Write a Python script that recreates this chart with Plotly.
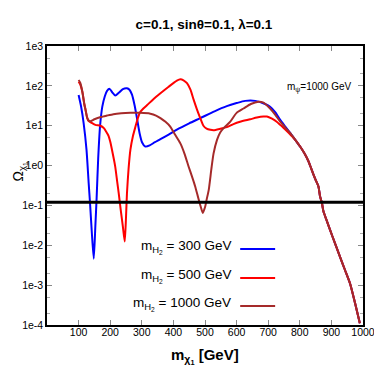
import plotly.graph_objects as go

# ---- data ----
tail_x = [785, 801, 815, 827, 836, 843, 851, 859, 864, 870, 875, 885, 896, 910, 927, 943, 959, 975, 990]
tail_y = [4.5, 3.0, 2.0, 1.3, 0.85, 0.6, 0.42, 0.3, 0.17, 0.115, 0.07, 0.042, 0.024, 0.012, 0.0052, 0.0024, 0.0011, 0.00035, 0.00011]

m300_x = [100, 108, 116, 125, 132, 136, 142, 148, 153, 157, 162, 168, 175, 183, 190, 198, 207, 216, 228, 240, 253,
          261, 269, 277, 285, 293, 301, 311, 325, 340, 359, 385, 411, 450, 485, 530, 569, 600, 627, 659, 690, 706,
          722, 738, 754, 770]
m300_y = [59, 30, 11.5, 2.5, 0.35, 0.12, 0.02, 0.0046, 0.03, 0.15, 1.5, 10, 30, 55, 75, 84, 68, 57, 68, 83, 87,
          80, 60, 33, 15, 6.5, 3.8, 3.0, 3.2, 3.8, 4.6, 6.0, 8.0, 11.5, 15.5, 23, 31, 37, 42, 42, 35, 30,
          22, 14, 9.5, 6.5]

m500_x = [100, 105, 112, 118, 122, 127, 132, 140, 153, 169, 180, 190, 195, 200, 208, 216, 222, 227, 234, 240, 246,
          250, 253, 258, 264, 272, 280, 288, 295, 305, 317, 335, 359, 385, 411, 422, 432, 443, 454, 464, 475,
          485, 495, 505, 517, 527, 549, 569, 590, 611, 643, 664, 685, 696, 712, 727, 738, 754, 770]
m500_y = [126, 110, 70, 35, 25, 16, 13, 12, 10.5, 10, 8.7, 6.5, 5.5, 4.0, 2.0, 0.93, 0.4, 0.2, 0.07, 0.03, 0.0124,
          0.05, 0.2, 0.8, 2.5, 5.5, 9.5, 16, 22, 27, 33, 45, 65, 95, 135, 146, 138, 117, 80, 45, 25,
          15.5, 10, 8.5, 7.9, 7.7, 8.4, 9.2, 11, 12.6, 14.5, 16, 17, 17, 15, 12.6, 10.5, 8.0, 6.0]

m1000_x = [100, 105, 112, 118, 122, 127, 132, 137, 150, 170, 190, 210, 235, 264, 295, 327, 345, 359, 375, 390, 405,
           422, 435, 448, 460, 469, 480, 487, 493, 500, 506, 512, 520, 527, 538, 548, 559, 580, 600, 622, 645,
           669, 685, 706, 722, 738, 754, 770]
m1000_y = [140, 120, 70, 35, 25, 16, 13.5, 13, 14.5, 16.5, 18, 19.5, 20.5, 21, 21, 20, 18, 15.5, 12.5, 9.5, 6.0,
           3.6, 2.0, 0.95, 0.5, 0.3, 0.14, 0.09, 0.065, 0.09, 0.15, 0.25, 0.8, 2.0, 4.4, 6.8, 8.7, 12.7, 21, 27, 35,
           40, 38, 27, 19, 12.6, 9.0, 6.5]

relic_x = [0, 1000]
relic_y = [0.12, 0.12]

legend_labels = ["m<sub>H<sub>2</sub></sub> = 300 GeV",
                 "m<sub>H<sub>2</sub></sub> = 500 GeV",
                 "m<sub>H<sub>2</sub></sub> = 1000 GeV"]
colors = ["#0000ff", "#ff0000", "#a52a2a"]

x_ticks = [100, 200, 300, 400, 500, 600, 700, 800, 900, 1000]
y_tickvals = [1e3, 1e2, 1e1, 1e0, 1e-1, 1e-2, 1e-3, 1e-4]
y_ticktext = ["1e3", "1e2", "1e1", "1e0", "1e-1", "1e-2", "1e-3", "1e-4"]

FONT = "Liberation Sans, Arial, Helvetica, sans-serif"

fig = go.Figure()
series = [(m300_x, m300_y), (m500_x, m500_y), (m1000_x, m1000_y)]
for (sx, sy), c, name in zip(series, colors, legend_labels):
    fig.add_trace(go.Scatter(x=sx + tail_x, y=sy + tail_y, mode="lines", name=name,
                             line=dict(color=c, width=2, shape="spline", smoothing=0.6),
                             showlegend=False))
fig.add_trace(go.Scatter(x=relic_x, y=relic_y, mode="lines", line=dict(color="black", width=3),
                         showlegend=False))

# page has an 8px body margin: work in screen coordinates, convert to figure coordinates
OFF = 8
W = H = 382 - OFF
L, R, T, B = 46.5 - OFF, 363 - OFF, 46 - OFF, 325 - OFF


def px(sx):
    return (sx - OFF - L) / (R - L)


def py(sy):
    return (B - (sy - OFF)) / (B - T)


fig.update_layout(
    width=W, height=H,
    margin=dict(l=L, r=W - R, t=T, b=H - B, pad=0, autoexpand=False),
    paper_bgcolor="white", plot_bgcolor="white",
    font=dict(family=FONT, color="black"),
    title=dict(text="<b>c=0.1, sinθ=0.1, λ=0.1</b>", x=(204 - OFF) / W, xanchor="center", xref="container",
               y=1 - (24 - OFF) / H, yanchor="middle", yref="container", font=dict(size=13.5, family=FONT)),
)
fig.update_xaxes(range=[0, 1000], tickvals=x_ticks, ticks="inside", ticklen=5, tickcolor="#888",
                 showline=True, linecolor="black", linewidth=1.5, mirror="ticks", showgrid=False,
                 zeroline=False, tickfont=dict(size=10.5, family=FONT), automargin=False,
                 ticklabelstandoff=-3)
fig.update_yaxes(type="log", range=[-4, 3], tickvals=y_tickvals, ticktext=y_ticktext, ticks="inside",
                 ticklen=5, tickcolor="#888", showline=True, linecolor="black", linewidth=1.5,
                 mirror="ticks", showgrid=False, zeroline=False, tickfont=dict(size=10.5, family=FONT),
                 automargin=False,
                 minor=dict(ticks="inside", ticklen=3, tickcolor="#aaa", dtick="D2", showgrid=False))

ann = []
ann.append(dict(text="<b>m<sub>χ<sub>1</sub></sub> [GeV]</b>", xref="paper", yref="paper",
                x=px(205), y=py(356), xanchor="center", yanchor="middle",
                showarrow=False, font=dict(size=15, family=FONT)))
ann.append(dict(text="Ω<sub>χ<sub>1</sub></sub>", xref="paper", yref="paper",
                x=px(18), y=py(172), xanchor="center", yanchor="middle",
                textangle=-90, showarrow=False, font=dict(size=14, family=FONT)))
ann.append(dict(text="m<sub>ψ</sub>=1000 GeV", xref="paper", yref="paper",
                x=px(285), y=py(87), xanchor="left", yanchor="middle",
                showarrow=False, font=dict(size=10, family=FONT)))
leg_y = [247, 276, 304]
for lab, c, ly in zip(legend_labels, colors, leg_y):
    ann.append(dict(text=lab, xref="paper", yref="paper", x=px(233), y=py(ly),
                    xanchor="right", yanchor="middle", showarrow=False, font=dict(size=13.5, family=FONT)))
    fig.add_shape(type="line", xref="paper", yref="paper", x0=px(240), x1=px(275),
                  y0=py(ly + 2), y1=py(ly + 2), line=dict(color=c, width=2))
fig.update_layout(annotations=ann)

fig.write_html("out.html")
